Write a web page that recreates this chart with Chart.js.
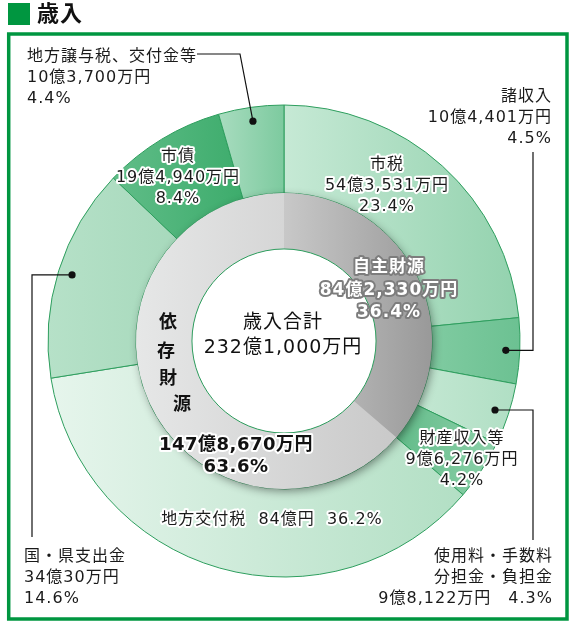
<!DOCTYPE html>
<html lang="ja">
<head>
<meta charset="UTF-8">
<title>歳入</title>
<style>
  html, body { margin: 0; padding: 0; background: #fff; }
</style>
</head>
<body>
<canvas id="myChart" width="573" height="626"></canvas>

<script src="https://cdn.jsdelivr.net/npm/chart.js"></script>
<script>
// 歳入の内訳（単位：万円）
const categories = ['市税', '諸収入', '使用料・手数料 分担金・負担金', '財産収入等', '地方交付税', '国・県支出金', '市債', '地方譲与税、交付金等'];
const amounts = [543531, 104401, 98122, 96276, 840000, 340030, 194940, 103700];
const percents = [23.4, 4.5, 4.3, 4.2, 36.2, 14.6, 8.4, 4.4];

// 内側の円（自主財源・依存財源）
const groups = ['自主財源', '依存財源'];
const groupAmounts = [842330, 1478670];
const groupPercents = [36.4, 63.6];
const totalLabel = '歳入合計';
const totalAmount = 2321000;

// 色（左→右のグラデーション）
const outerColors = [
  ['#c6e9d5', '#93d2ae'],
  ['#80cba1', '#6cc192'],
  ['#c3e7d2', '#b0dfc4'],
  ['#62bb89', '#8ed1aa'],
  ['#e6f5ec', '#b2dfc4'],
  ['#b6e1c8', '#a7d9bc'],
  ['#60bd88', '#3dac6c'],
  ['#a8dcbf', '#7dca9f']
];
const innerColors = [
  ['#c8c8c8', '#999999'],
  ['#e6e7e7', '#c9c9c9']
];
const GREEN = '#009640';
const FONT = '"DejaVu Sans", "Noto Sans CJK JP", sans-serif';

function fmtMan(v) {
  const oku = Math.floor(v / 10000);
  const man = v % 10000;
  return man > 0 ? oku + '億' + man.toLocaleString('en-US') + '万円' : oku + '億円';
}

// スライスごとに横方向のグラデーションを作る
function sliceFill(stops) {
  return function (c) {
    const i = c.dataIndex;
    if (i === undefined) return stops[0][1];
    const chart = c.chart;
    const area = chart.chartArea;
    const ctrl = chart.getDatasetMeta(c.datasetIndex).controller;
    if (!area || !ctrl.outerRadius) return stops[i][1];
    const data = c.dataset.data;
    const total = data.reduce((a, b) => a + b, 0);
    let before = 0;
    for (let k = 0; k < i; k++) before += data[k];
    const a0 = -Math.PI / 2 + before / total * 2 * Math.PI;
    const a1 = a0 + data[i] / total * 2 * Math.PI;
    const cx = (area.left + area.right) / 2;
    let minX = Infinity, maxX = -Infinity;
    for (let s = 0; s <= 40; s++) {
      const t = a0 + (a1 - a0) * s / 40;
      [ctrl.innerRadius, ctrl.outerRadius].forEach(function (r) {
        const x = cx + r * Math.cos(t);
        minX = Math.min(minX, x);
        maxX = Math.max(maxX, x);
      });
    }
    const g = chart.ctx.createLinearGradient(minX, 0, maxX, 0);
    g.addColorStop(0, stops[i][0]);
    g.addColorStop(1, stops[i][1]);
    return g;
  };
}

// ラベル配置
const sliceLabelPos = [
  {x: 387, y: 165, align: 'center', halo: true},
  {x: 552, y: 97, align: 'right'},
  {x: 553, y: 557, align: 'right'},
  {x: 462, y: 439, align: 'center', halo: true},
  {x: 272, y: 520, align: 'center', halo: true, oneLine: true},
  {x: 24, y: 557, align: 'left'},
  {x: 178, y: 157, align: 'center', halo: true},
  {x: 27, y: 57, align: 'left'}
];
// 引き出し線（スライス番号, 折れ点）
const leaders = [
  {i: 1, bend: 533, endY: 152},
  {i: 2, bend: 533, endY: 540},
  {i: 5, bend: 32, endY: 537},
  {i: 7, elbow: [240, 54], endX: 197}
];

function linesFor(i) {
  const name = categories[i].split(' ');
  const amt = fmtMan(amounts[i]);
  const pct = percents[i].toFixed(1) + '%';
  if (sliceLabelPos[i].oneLine) return [name[0] + '  ' + amt + '  ' + pct];
  if (name.length > 1) return name.concat([amt + '　' + pct]);
  return [name[0], amt, pct];
}

function drawText(ctx, text, x, y, opt) {
  ctx.font = opt.font;
  ctx.textAlign = opt.align || 'center';
  ctx.textBaseline = 'middle';
  ctx.letterSpacing = opt.spacing || '1px';
  if (opt.stroke) {
    ctx.lineJoin = 'round';
    ctx.lineWidth = opt.strokeWidth || 4;
    ctx.strokeStyle = opt.stroke;
    ctx.strokeText(text, x, y);
  }
  ctx.fillStyle = opt.color || '#1a1a1a';
  ctx.fillText(text, x, y);
}

const decor = {
  id: 'decor',
  beforeDraw(chart) {
    const ctx = chart.ctx;
    ctx.save();
    ctx.fillStyle = GREEN;
    ctx.fillRect(8, 3, 22, 22);
    drawText(ctx, '歳入', 37, 15, {font: 'bold 22px ' + FONT, align: 'left', spacing: '1px', color: '#111'});
    ctx.strokeStyle = GREEN;
    ctx.lineWidth = 3.5;
    ctx.strokeRect(8.7, 34, 558.3, 585);
    ctx.restore();
  },
  beforeDatasetDraw(chart, args) {
    if (args.index !== 1) return;
    const arc = chart.getDatasetMeta(1).data[0];
    const ctx = chart.ctx;
    ctx.save();
    ctx.shadowColor = 'rgba(0,0,0,0.45)';
    ctx.shadowBlur = 10;
    ctx.shadowOffsetX = 2;
    ctx.shadowOffsetY = 3;
    ctx.beginPath();
    ctx.arc(arc.x, arc.y, arc.outerRadius - 1, 0, Math.PI * 2);
    ctx.fillStyle = '#bbbbbb';
    ctx.fill();
    ctx.restore();
  },
  afterDatasetsDraw(chart) {
    const ctx = chart.ctx;
    const inner = chart.getDatasetMeta(1).data[0];
    const cx = inner.x, cy = inner.y;
    ctx.save();

    // 中央の穴
    ctx.beginPath();
    ctx.arc(cx, cy, inner.innerRadius, 0, Math.PI * 2);
    ctx.fillStyle = '#fff';
    ctx.fill();
    ctx.lineWidth = 1;
    ctx.strokeStyle = '#2e9e5e';
    ctx.stroke();

    // 引き出し線と点
    const outer = chart.getDatasetMeta(0).data;
    ctx.strokeStyle = '#111';
    ctx.fillStyle = '#111';
    ctx.lineWidth = 1.2;
    leaders.forEach(function (l) {
      const a = outer[l.i];
      const mid = (a.startAngle + a.endAngle) / 2;
      const r = a.outerRadius - 14;
      const px = cx + r * Math.cos(mid);
      const py = cy + r * Math.sin(mid);
      ctx.beginPath();
      ctx.moveTo(px, py);
      if (l.elbow) {
        ctx.lineTo(l.elbow[0], l.elbow[1]);
        ctx.lineTo(l.endX, l.elbow[1]);
      } else {
        ctx.lineTo(l.bend, py);
        ctx.lineTo(l.bend, l.endY);
      }
      ctx.stroke();
      ctx.beginPath();
      ctx.arc(px, py, 3.6, 0, Math.PI * 2);
      ctx.fill();
    });

    // 外側のラベル
    categories.forEach(function (c, i) {
      const p = sliceLabelPos[i];
      linesFor(i).forEach(function (t, k) {
        drawText(ctx, t, p.x, p.y + k * 21, {
          font: '16px ' + FONT, align: p.align,
          stroke: p.halo ? '#fff' : null, strokeWidth: 4
        });
      });
    });

    // 自主財源
    const own = [groups[0], fmtMan(groupAmounts[0]), groupPercents[0].toFixed(1) + '%'];
    own.forEach(function (t, k) {
      drawText(ctx, t, 389, 268 + k * 22.5, {
        font: 'bold 17px ' + FONT, color: '#fff', stroke: '#7d7d7d', strokeWidth: 4
      });
    });

    // 依存財源（縦書き）
    const vpos = [[168, 323], [166, 352], [168, 379], [182, 405]];
    groups[1].split('').forEach(function (ch, k) {
      drawText(ctx, ch, vpos[k][0], vpos[k][1], {font: 'bold 18px ' + FONT, color: '#111', spacing: '0px'});
    });
    [fmtMan(groupAmounts[1]), groupPercents[1].toFixed(1) + '%'].forEach(function (t, k) {
      drawText(ctx, t, 236, 445 + k * 22, {
        font: 'bold 18px ' + FONT, color: '#111', stroke: '#fff', strokeWidth: 4, spacing: '0.5px'
      });
    });

    // 合計
    drawText(ctx, totalLabel, 283, 323, {font: '19px ' + FONT, color: '#111'});
    drawText(ctx, fmtMan(totalAmount), 283, 348, {font: '19px ' + FONT, color: '#111'});

    ctx.restore();
  }
};

new Chart(document.getElementById('myChart'), {
  type: 'doughnut',
  data: {
    labels: categories,
    datasets: [
      {
        label: '歳入',
        data: amounts,
        weight: 88,
        order: 1,
        backgroundColor: sliceFill(outerColors),
        borderColor: '#2e9e5e',
        borderWidth: 1
      },
      {
        label: '財源',
        data: groupAmounts,
        weight: 56,
        order: 0,
        backgroundColor: sliceFill(innerColors),
        borderWidth: 0
      }
    ]
  },
  options: {
    responsive: false,
    animation: false,
    events: [],
    radius: 236,
    cutout: '39%',
    layout: { padding: { left: 0, right: 5, top: 56, bottom: 0 } },
    plugins: {
      legend: { display: false },
      tooltip: { enabled: false }
    }
  },
  plugins: [decor]
});
</script>
</body>
</html>
